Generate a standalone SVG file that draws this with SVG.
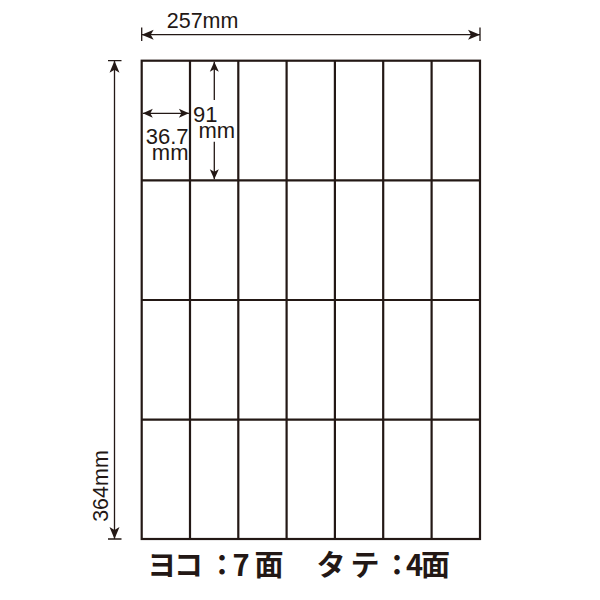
<svg xmlns="http://www.w3.org/2000/svg" width="600" height="600" viewBox="0 0 600 600">
<style>
.grid{fill:none;stroke:#231815;stroke-width:2.2}
.dim{fill:none;stroke:#231815;stroke-width:1.3}
.lbl{font-family:"Liberation Sans",Arial,sans-serif;fill:#231815}
.jp{font-family:"Noto Sans CJK JP","Noto Sans CJK SC",sans-serif;fill:#231815;font-weight:700}
</style>
<defs>
<marker id="ah" viewBox="-1 -6 14 12" refX="12" refY="0" markerWidth="14" markerHeight="12" markerUnits="userSpaceOnUse" orient="auto-start-reverse">
<path d="M0,-5 L12,0 L0,5 L3,0 Z" fill="#231815"/>
</marker>
<marker id="as" viewBox="-1 -6 12 12" refX="10" refY="0" markerWidth="12" markerHeight="12" markerUnits="userSpaceOnUse" orient="auto-start-reverse">
<path d="M0,-4.5 L10,0 L0,4.5 L2.5,0 Z" fill="#231815"/>
</marker>
</defs>
<rect width="600" height="600" fill="#ffffff"/>
<g id="sheet">
<rect class="grid" x="141.7" y="60.7" width="338.3" height="478.3"/>
<path class="grid" d="M190,60.7V539 M238.3,60.7V539 M286.6,60.7V539 M334.9,60.7V539 M383.2,60.7V539 M431.6,60.7V539 M141.7,180.3H480 M141.7,300H480 M141.7,419.6H480"/>
</g>
<g id="connectors">
<line class="dim" x1="141.7" y1="34.7" x2="480" y2="34.7" marker-start="url(#ah)" marker-end="url(#ah)"/>
<path class="dim" d="M141.7,27.5V41 M480,27.5V41"/>
<line class="dim" x1="114.5" y1="60.7" x2="114.5" y2="539" marker-start="url(#ah)" marker-end="url(#ah)"/>
<path class="dim" d="M108,60.7H121.5 M108,539H121.5"/>
<line class="dim" x1="142.8" y1="113.3" x2="188.9" y2="113.3" marker-start="url(#as)" marker-end="url(#as)"/>
<line class="dim" x1="214.3" y1="61.8" x2="214.3" y2="100" marker-start="url(#as)"/>
<line class="dim" x1="214.3" y1="141.7" x2="214.3" y2="179.2" marker-end="url(#as)"/>
</g>
<g id="labels">
<text class="lbl" x="202.6" y="27.5" font-size="21.5" text-anchor="middle">257mm</text>
<text class="lbl" transform="translate(107.7,486) rotate(-90)" font-size="21.5" text-anchor="middle">364mm</text>
<text class="lbl" font-size="22" text-anchor="end"><tspan x="188.5" y="144.3">36.7</tspan><tspan x="188.5" y="159.5">mm</tspan></text>
<text class="lbl" font-size="22"><tspan x="193" y="121.7">91</tspan><tspan x="198.5" y="137.7">mm</tspan></text>
<text class="jp" font-size="29" y="576" text-anchor="middle" x="161.7 188.5 222 241 269 300 331 365 397 414.5 435.5">ヨコ：7面　タテ：4面</text>
</g>
</svg>
